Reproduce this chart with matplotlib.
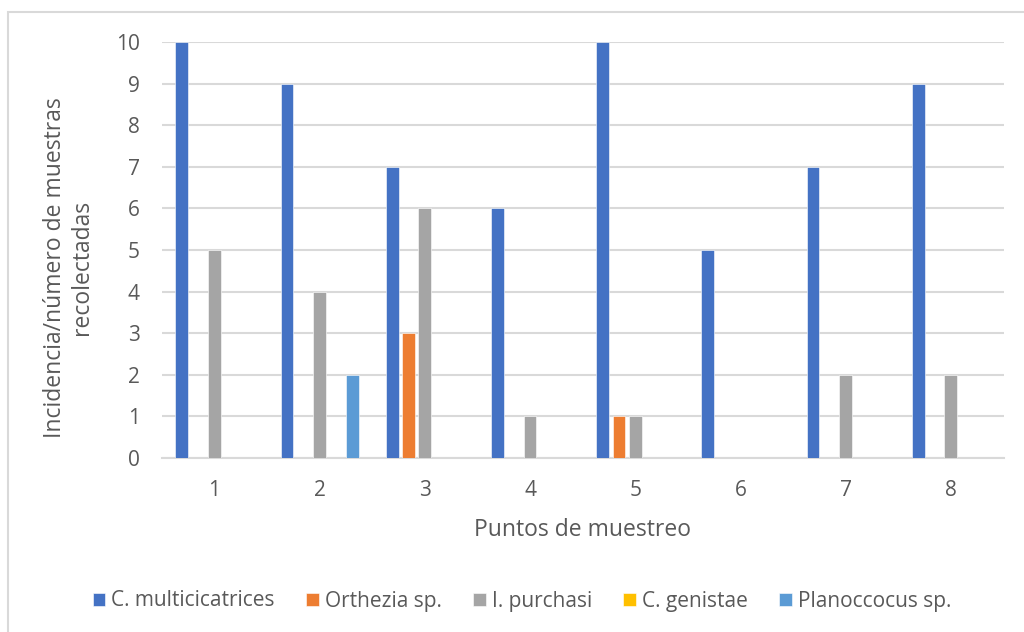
import numpy as np
import matplotlib.pyplot as plt
from matplotlib.patches import Rectangle

# Puntos de muestreo y número de muestras por especie
puntos = ['1', '2', '3', '4', '5', '6', '7', '8']
especies = ['C. multicicatrices', 'Orthezia sp.', 'I. purchasi', 'C. genistae', 'Planoccocus sp.']
c_multicicatrices = [10, 9, 7, 6, 10, 5, 7, 9]
orthezia = [0, 0, 3, 0, 1, 0, 0, 0]
i_purchasi = [5, 4, 6, 1, 1, 0, 2, 2]
c_genistae = [0, 0, 0, 0, 0, 0, 0, 0]
planococcus = [0, 2, 0, 0, 0, 0, 0, 0]
colores = ['#4472c4', '#ed7d31', '#a5a5a5', '#ffc000', '#5b9bd5']

plt.rcParams['font.family'] = ['Open Sans', 'DejaVu Sans']
gris = '#595959'

fig = plt.figure(figsize=(10.24, 6.32), dpi=100)
ax = fig.add_axes([0.158, 0.2753, 0.822, 0.6582])

# marco del gráfico
fig.patches.append(Rectangle((8 / 1024, -0.1), 1.2, 1 - 12 / 632 + 0.1,
                             transform=fig.transFigure, fill=False,
                             edgecolor='#d9d9d9', linewidth=1.5))

x = np.arange(1, len(puntos) + 1)
series = [c_multicicatrices, orthezia, i_purchasi, c_genistae, planococcus]
paso = 0.155
ancho = 0.122
for i, (valores, nombre, color) in enumerate(zip(series, especies, colores)):
    ax.bar(x + (i - 2) * paso, valores, width=ancho, color=color,
           edgecolor='white', linewidth=0.4, label=nombre, zorder=3)

ax.set_xlim(0.5, 8.5)
ax.set_ylim(0, 10)
ax.set_yticks(range(0, 11))
ax.set_xticks(x)
ax.set_xticklabels(puntos)
ax.grid(axis='y', color='#d9d9d9', linewidth=1.5, zorder=0)
for lado in ['top', 'right', 'left']:
    ax.spines[lado].set_visible(False)
ax.spines['bottom'].set_color('#d9d9d9')
ax.spines['bottom'].set_linewidth(1.5)
ax.tick_params(axis='both', length=0, labelsize=15, colors=gris)
ax.tick_params(axis='y', pad=16)
ax.tick_params(axis='x', pad=16)

ax.set_xlabel('Puntos de muestreo', fontsize=16.5, color=gris, labelpad=12)
ax.set_ylabel('Incidencia/número de muestras\nrecolectadas', fontsize=16.5,
              color=gris, linespacing=1.2)
ax.yaxis.set_label_coords(-0.08, 0.457)

ax.legend(loc='center', bbox_to_anchor=(522 / 1024, 1 - 601 / 632),
          bbox_transform=fig.transFigure, ncol=5, frameon=False,
          fontsize=15, labelcolor=gris, handlelength=0.6, handleheight=0.6,
          handletextpad=0.3, columnspacing=1.5)

fig.savefig('out.png', dpi=100)
